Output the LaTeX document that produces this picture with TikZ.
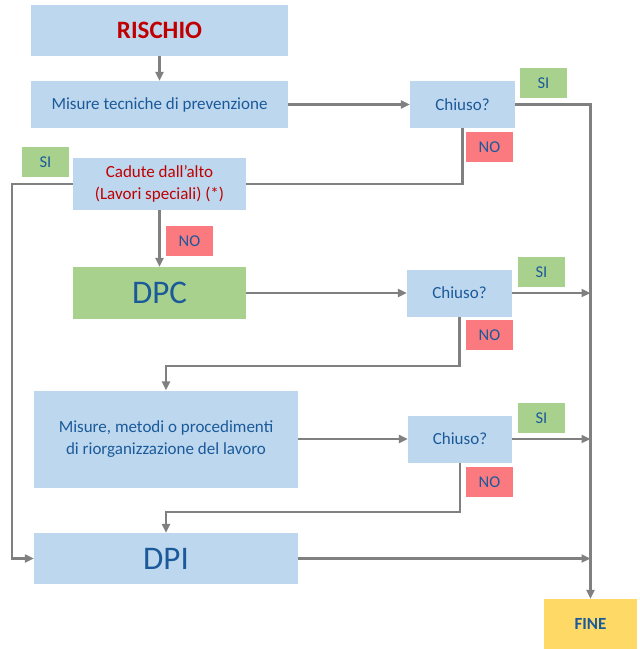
\documentclass[tikz,border=0pt]{standalone}
\usepackage{fontspec}
\setmainfont{Carlito}
\usetikzlibrary{arrows.meta}
\definecolor{boxblue}{HTML}{BDD7EE}
\definecolor{boxgreen}{HTML}{A9D18E}
\definecolor{boxred}{HTML}{FB7A80}
\definecolor{boxyellow}{HTML}{FFD966}
\definecolor{txtblue}{HTML}{1B5A9A}
\definecolor{txtred}{HTML}{C00000}
\definecolor{linegrey}{HTML}{808080}
\begin{document}
\begin{tikzpicture}[x=1pt,y=-1pt,
    box/.style={fill=boxblue,text=txtblue,align=center,inner sep=0pt,
      font=\fontsize{17}{22}\selectfont},
    tag/.style={minimum width=47pt,minimum height=30pt,inner sep=0pt,
      text=txtblue,font=\fontsize{16.5}{19}\selectfont},
    si/.style={tag,fill=boxgreen},
    no/.style={tag,fill=boxred},
    big/.style={font=\fontsize{33}{38}\selectfont}]
  \useasboundingbox (0,0) rectangle (640,649);
  \draw
    (159.5,30.5) node[box,minimum width=257pt,minimum height=51pt,text=txtred,
      font=\fontsize{25}{30}\selectfont\bfseries] (rischio){RISCHIO}
    (159.5,104.5) node[box,minimum width=257pt,minimum height=47pt] (misure){Misure tecniche di prevenzione}
    (462.5,104.5) node[box,minimum width=105pt,minimum height=47pt] (chiuso1){Chiuso?}
    (543.5,83) node[si] (si1){SI}
    (489.5,147) node[no] (no1){NO}
    (159.5,184) node[box,minimum width=173pt,minimum height=52pt,text=txtred] (cadute){Cadute dall’alto\\(Lavori speciali) (*)}
    (45.5,162) node[si] (si2){SI}
    (189.5,241) node[no] (no2){NO}
    (159.5,293) node[box,fill=boxgreen,big,minimum width=173pt,minimum height=52pt] (dpc){DPC}
    (459.5,293) node[box,minimum width=105pt,minimum height=47pt] (chiuso2){Chiuso?}
    (541.5,272) node[si] (si3){SI}
    (489.5,335) node[no] (no3){NO}
    (166,439) node[box,minimum width=264pt,minimum height=97pt] (metodi){Misure, metodi o procedimenti\\di riorganizzazione del lavoro}
    (460,439) node[box,minimum width=104pt,minimum height=47pt] (chiuso3){Chiuso?}
    (541.5,418) node[si] (si4){SI}
    (489.5,482) node[no] (no4){NO}
    (166,558.5) node[box,big,minimum width=264pt,minimum height=51pt] (dpi){DPI}
    (590.5,624) node[box,fill=boxyellow,minimum width=93pt,minimum height=50pt,
      font=\fontsize{17}{22}\selectfont\bfseries] (fine){FINE};
  \begin{scope}[draw=linegrey,line width=2.2pt,-{Triangle[length=9pt,width=8pt]}]
    \draw (rischio) to (misure);
    \draw (misure) to (chiuso1);
    \draw (chiuso1) -| (fine);
    \draw[-] (chiuso1.south) |- (cadute.east);
    \draw (cadute.west) -| ([xshift=-22pt]dpi.west) -- (dpi.west);
    \draw (cadute) to (dpc);
    \draw (dpc) to (chiuso2);
    \draw (chiuso2) to (chiuso2 -| fine);
    \draw (chiuso2.south) |- ([yshift=24pt]metodi.north) -- (metodi.north);
    \draw (metodi) to (chiuso3);
    \draw (chiuso3) to (chiuso3 -| fine);
    \draw (chiuso3.south) |- ([yshift=21pt]dpi.north) -- (dpi.north);
    \draw (dpi) to (dpi -| fine);
  \end{scope}
\end{tikzpicture}
\end{document}
